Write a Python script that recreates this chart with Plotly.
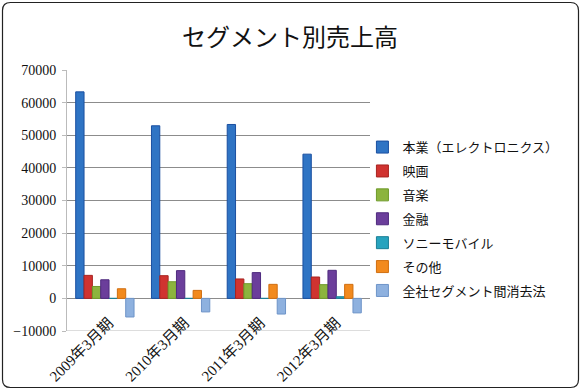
import plotly.graph_objects as go

categories = ["2009年3月期", "2010年3月期", "2011年3月期", "2012年3月期"]
series_names = ["本業（エレクトロニクス）", "映画", "音楽", "金融", "ソニーモバイル", "その他", "全社セグメント間消去法"]
electronics = [63300, 52900, 53300, 44200]
pictures = [7050, 6950, 5950, 6550]
music = [3650, 5100, 4500, 4200]
financial = [5700, 8500, 7900, 8600]
sony_mobile = [0, 0, 0, 500]
other = [2950, 2450, 4300, 4300]
elimination = [-5700, -4150, -4800, -4450]
tick_vals = [-10000, 0, 10000, 20000, 30000, 40000, 50000, 60000, 70000]

values = [electronics, pictures, music, financial, sony_mobile, other, elimination]
fills = ["#2F74C4", "#D03330", "#8CB43E", "#6B3E9B", "#27A3BE", "#F28A1E", "#8EB1DF"]
lines = ["#1A4FA0", "#A82420", "#6E9A2A", "#4E2A7E", "#1B7F96", "#D06E10", "#6E94C8"]

W, H = 581, 390
L, R, T, B = 67, 211, 70, 59
pw, ph = W - L - R, H - T - B
y_min, y_max = -10000, 70000

fig = go.Figure()
for i, (name, vals) in enumerate(zip(series_names, values)):
    fig.add_trace(go.Bar(
        x=categories, y=vals, name=name, legendgroup=str(i),
        marker=dict(color=fills[i], line=dict(color=lines[i], width=1)),
    ))

def px2paper(x, y):
    return (x - L) / pw, (H - B - y) / ph

# rounded border around the whole picture
x0, y0, x1, y1, r = 2.5, 2.5, 578.5, 387.5, 8
pts = [("M", x0 + r, y0), ("L", x1 - r, y0), ("Q", x1, y0, x1, y0 + r), ("L", x1, y1 - r),
       ("Q", x1, y1, x1 - r, y1), ("L", x0 + r, y1), ("Q", x0, y1, x0, y1 - r),
       ("L", x0, y0 + r), ("Q", x0, y0, x0 + r, y0)]
path = ""
for p in pts:
    cmd = p[0]
    coords = p[1:]
    s = []
    for k in range(0, len(coords), 2):
        a, b = px2paper(coords[k], coords[k + 1])
        s.append(f"{a:.5f},{b:.5f}")
    path += cmd + " ".join(s) + " "
path += "Z"

fig.add_shape(type="path", path=path, xref="paper", yref="paper",
              line=dict(color="#222222", width=1.2), layer="above")

fig.update_layout(
    width=W, height=H,
    margin=dict(l=L, r=R, t=T, b=B, autoexpand=False),
    paper_bgcolor="white", plot_bgcolor="white",
    barmode="group", bargap=0.23, bargroupgap=0,
    title=dict(text="セグメント別売上高", x=290 / W, xanchor="center",
               y=1 - 38 / H, yanchor="middle",
               font=dict(family="Noto Sans CJK JP", size=24, color="#111111")),
    font=dict(family="Liberation Serif, Noto Sans CJK JP", size=13, color="#111111"),
    yaxis=dict(range=[y_min, y_max], tickvals=tick_vals, tickformat="d",
               ticks="outside", ticklen=4, tickcolor="#BBBBBB", ticklabelstandoff=3,
               showgrid=True, gridcolor="#8C8C8C", gridwidth=1,
               zeroline=True, zerolinecolor="#8C8C8C", zerolinewidth=1,
               showline=True, linecolor="#BBBBBB", linewidth=1, automargin=False,
               tickfont=dict(family="Liberation Serif", size=14, color="#111111")),
    xaxis=dict(tickangle=-45, showline=False, showgrid=False, ticks="", automargin=False,
               anchor="free", position=(0 - y_min) / (y_max - y_min),
               ticklabelstandoff=12, ticklabelshift=4,
               tickfont=dict(family="Liberation Serif, Noto Sans CJK JP", size=15, color="#111111")),
    legend=dict(x=0.975, y=0.762, xanchor="left", yanchor="top",
                font=dict(family="Noto Sans CJK JP", size=13, color="#111111"),
                tracegroupgap=4, bgcolor="rgba(0,0,0,0)"),
    showlegend=True,
)
fig.add_shape(type="line", xref="paper", yref="y", x0=0, x1=1, y0=y_min, y1=y_min,
              line=dict(color="#BBBBBB", width=1), layer="below")

fig.write_html("out.html", config={"displayModeBar": False},
               post_script="document.body.style.margin='0';document.body.style.padding='0';")
